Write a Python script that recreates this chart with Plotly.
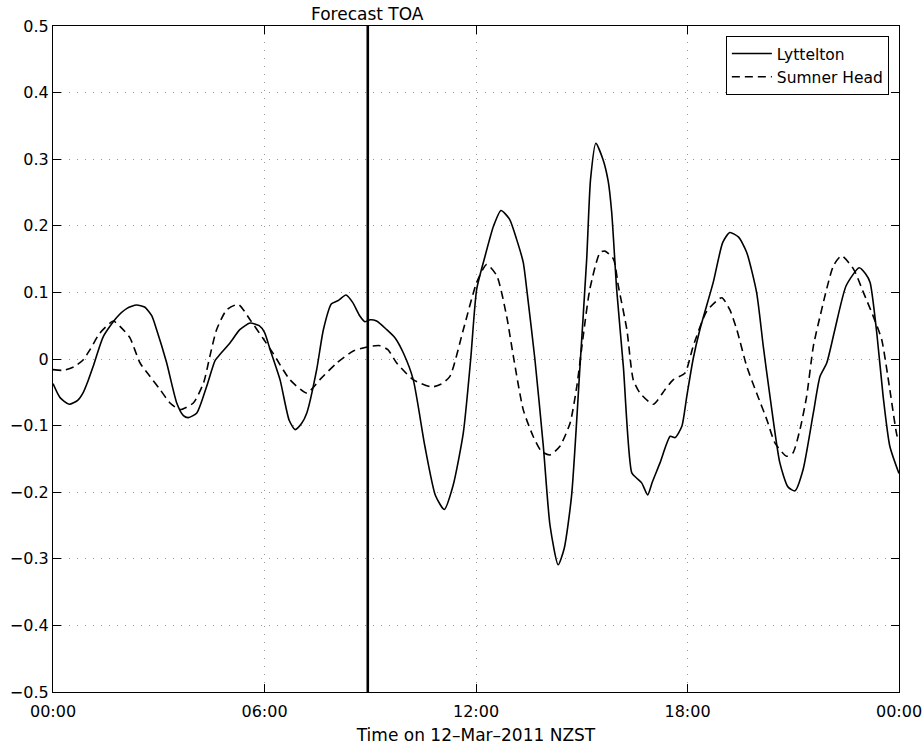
import pandas as pd
import plotly.graph_objects as go

# ---- data (hours since 00:00 on 12-Mar-2011, sea level in m) ----
lyt_hours = [0.0, 0.2, 0.46, 0.7, 0.86, 1.0, 1.14, 1.43, 1.8, 2.1, 2.37, 2.6, 2.8, 2.94, 3.22, 3.51, 3.7, 3.84,
             4.08, 4.36, 4.6, 4.74, 5.02, 5.3, 5.59, 5.85, 6.0, 6.16, 6.44, 6.7, 6.87, 7.05, 7.2, 7.48, 7.67,
             7.9, 8.1, 8.31, 8.5, 8.7, 8.85, 9.0, 9.18, 9.47, 9.7, 9.94, 10.22, 10.55, 10.85, 11.1, 11.35,
             11.64, 11.85, 12.02, 12.26, 12.5, 12.71, 12.95, 13.15, 13.34, 13.45, 13.67, 13.91, 14.1, 14.33,
             14.5, 14.71, 14.95, 15.14, 15.25, 15.4, 15.6, 15.75, 15.85, 15.99, 16.18, 16.42, 16.56, 16.7,
             16.87, 17.0, 17.22, 17.51, 17.65, 17.84, 17.98, 18.16, 18.35, 18.73, 19.0, 19.2, 19.45, 19.68,
             19.96, 20.15, 20.34, 20.62, 20.85, 21.05, 21.28, 21.57, 21.76, 21.95, 22.18, 22.5, 22.87, 23.05,
             23.18, 23.37, 23.55, 23.74, 24.0]
lyt_values = [-0.037, -0.058, -0.068, -0.062, -0.050, -0.032, -0.011, 0.034, 0.062, 0.076, 0.081, 0.078, 0.065,
              0.044, -0.005, -0.066, -0.085, -0.088, -0.081, -0.041, -0.002, 0.007, 0.024, 0.044, 0.054, 0.050,
              0.040, 0.014, -0.031, -0.092, -0.106, -0.097, -0.081, -0.016, 0.044, 0.083, 0.088, 0.096, 0.085,
              0.065, 0.056, 0.059, 0.057, 0.044, 0.032, 0.009, -0.031, -0.131, -0.205, -0.226, -0.190, -0.111,
              0.0, 0.105, 0.155, 0.200, 0.223, 0.210, 0.180, 0.145, 0.100, 0.0, -0.131, -0.250, -0.309, -0.285,
              -0.206, -0.011, 0.150, 0.270, 0.324, 0.300, 0.267, 0.22, 0.105, -0.011, -0.171, -0.179, -0.186,
              -0.204, -0.185, -0.156, -0.116, -0.118, -0.101, -0.056, 0.0, 0.044, 0.115, 0.175, 0.190, 0.183,
              0.160, 0.100, 0.019, -0.056, -0.156, -0.192, -0.198, -0.166, -0.081, -0.026, -0.006, 0.044, 0.110,
              0.137, 0.128, 0.115, 0.039, -0.056, -0.131, -0.172]

sum_hours = [0.0, 0.29, 0.62, 0.86, 1.05, 1.33, 1.71, 1.9, 2.18, 2.47, 2.75, 3.04, 3.32, 3.6, 3.98, 4.27, 4.45,
             4.64, 4.93, 5.26, 5.59, 5.97, 6.25, 6.72, 7.2, 7.57, 8.05, 8.52, 8.99, 9.28, 9.5, 9.75, 10.22,
             10.74, 11.0, 11.26, 11.64, 12.02, 12.3, 12.59, 12.87, 13.06, 13.34, 13.62, 13.86, 14.1, 14.38,
             14.67, 14.86, 15.04, 15.23, 15.52, 15.66, 15.9, 16.04, 16.28, 16.46, 16.65, 17.03, 17.36, 17.6,
             17.93, 18.16, 18.55, 18.97, 19.2, 19.4, 19.68, 19.96, 20.25, 20.48, 20.81, 20.99, 21.19, 21.38,
             21.57, 21.76, 22.14, 22.37, 22.71, 22.99, 23.27, 23.51, 23.74, 23.95, 24.0]
sum_values = [-0.016, -0.017, -0.011, -0.001, 0.014, 0.039, 0.057, 0.049, 0.032, -0.006, -0.026, -0.046, -0.066,
              -0.076, -0.066, -0.036, 0.004, 0.044, 0.074, 0.082, 0.059, 0.030, 0.008, -0.031, -0.051, -0.031,
              -0.006, 0.012, 0.019, 0.020, 0.014, -0.006, -0.031, -0.042, -0.038, -0.026, 0.044, 0.115, 0.142,
              0.125, 0.064, 0.004, -0.076, -0.116, -0.139, -0.144, -0.131, -0.096, -0.041, 0.034, 0.105, 0.160,
              0.162, 0.150, 0.109, 0.044, -0.031, -0.051, -0.068, -0.046, -0.031, -0.021, 0.019, 0.072, 0.092,
              0.074, 0.044, -0.011, -0.051, -0.091, -0.126, -0.146, -0.141, -0.106, -0.056, 0.019, 0.064, 0.140,
              0.155, 0.135, 0.100, 0.064, 0.029, -0.046, -0.116, -0.12]

toa_hour = 8.93
x_tick_hours = [0, 6, 12, 18, 24]
x_tick_labels = ["00:00", "06:00", "12:00", "18:00", "00:00"]
y_tick_vals = [0.5, 0.4, 0.3, 0.2, 0.1, 0, -0.1, -0.2, -0.3, -0.4, -0.5]
y_tick_labels = ["0.5", "0.4", "0.3", "0.2", "0.1", "0", "\u22120.1", "\u22120.2", "\u22120.3", "\u22120.4", "\u22120.5"]

base = pd.Timestamp("2011-03-12 00:00")
def to_t(h):
    return [base + pd.to_timedelta(v, unit="h") for v in h]

FONT = "DejaVu Sans, Liberation Sans, sans-serif"

fig = go.Figure()
fig.add_trace(go.Scatter(x=to_t(lyt_hours), y=lyt_values, mode="lines", name="Lyttelton",
                         line=dict(color="black", width=1.6, shape="spline", smoothing=0.6)))
fig.add_trace(go.Scatter(x=to_t(sum_hours), y=sum_values, mode="lines", name="Sumner Head",
                         line=dict(color="black", width=1.6, dash="8px,5px", shape="spline", smoothing=0.6)))

toa_t = to_t([toa_hour])[0]
fig.add_trace(go.Scatter(x=[toa_t, toa_t], y=[-0.5, 0.5], mode="lines", showlegend=False,
                         line=dict(color="black", width=2.6), hoverinfo="skip"))
fig.add_annotation(x=toa_t, y=1, xref="x", yref="paper", yanchor="bottom", text="Forecast TOA",
                   showarrow=False, font=dict(size=17, color="black", family=FONT), yshift=0)

fig.update_layout(
    width=924, height=747,
    margin=dict(l=53, r=25, t=26, b=55),
    paper_bgcolor="white", plot_bgcolor="white",
    font=dict(family=FONT, size=16, color="black"),
    showlegend=True,
    legend=dict(x=0.988, y=0.985, xanchor="right", yanchor="top", bgcolor="white",
                bordercolor="black", borderwidth=1, font=dict(size=15.5, family=FONT),
                tracegroupgap=0, itemwidth=40),
    xaxis=dict(range=[base, base + pd.Timedelta(hours=24)],
               tickvals=to_t(x_tick_hours), ticktext=x_tick_labels, automargin=False,
               showgrid=True, gridcolor="#999999", griddash="1px,7px", gridwidth=1,
               showline=True, linecolor="black", linewidth=1.2, mirror="ticks",
               ticks="inside", ticklen=8, tickcolor="black", tickfont=dict(size=16),
               ticklabelstandoff=5,
               title=dict(text="Time on 12\u2013Mar\u20132011 NZST", standoff=8, font=dict(size=17)),
               zeroline=False),
    yaxis=dict(range=[-0.5, 0.5], tickvals=y_tick_vals, ticktext=y_tick_labels, automargin=False,
               showgrid=True, gridcolor="#999999", griddash="1px,7px", gridwidth=1,
               showline=True, linecolor="black", linewidth=1.2, mirror="ticks",
               ticks="inside", ticklen=8, tickcolor="black", tickfont=dict(size=16), zeroline=False),
)

fig.write_html("out.html", config={"displayModeBar": False},
               post_script="document.body.style.margin='0';document.body.style.padding='0';")
